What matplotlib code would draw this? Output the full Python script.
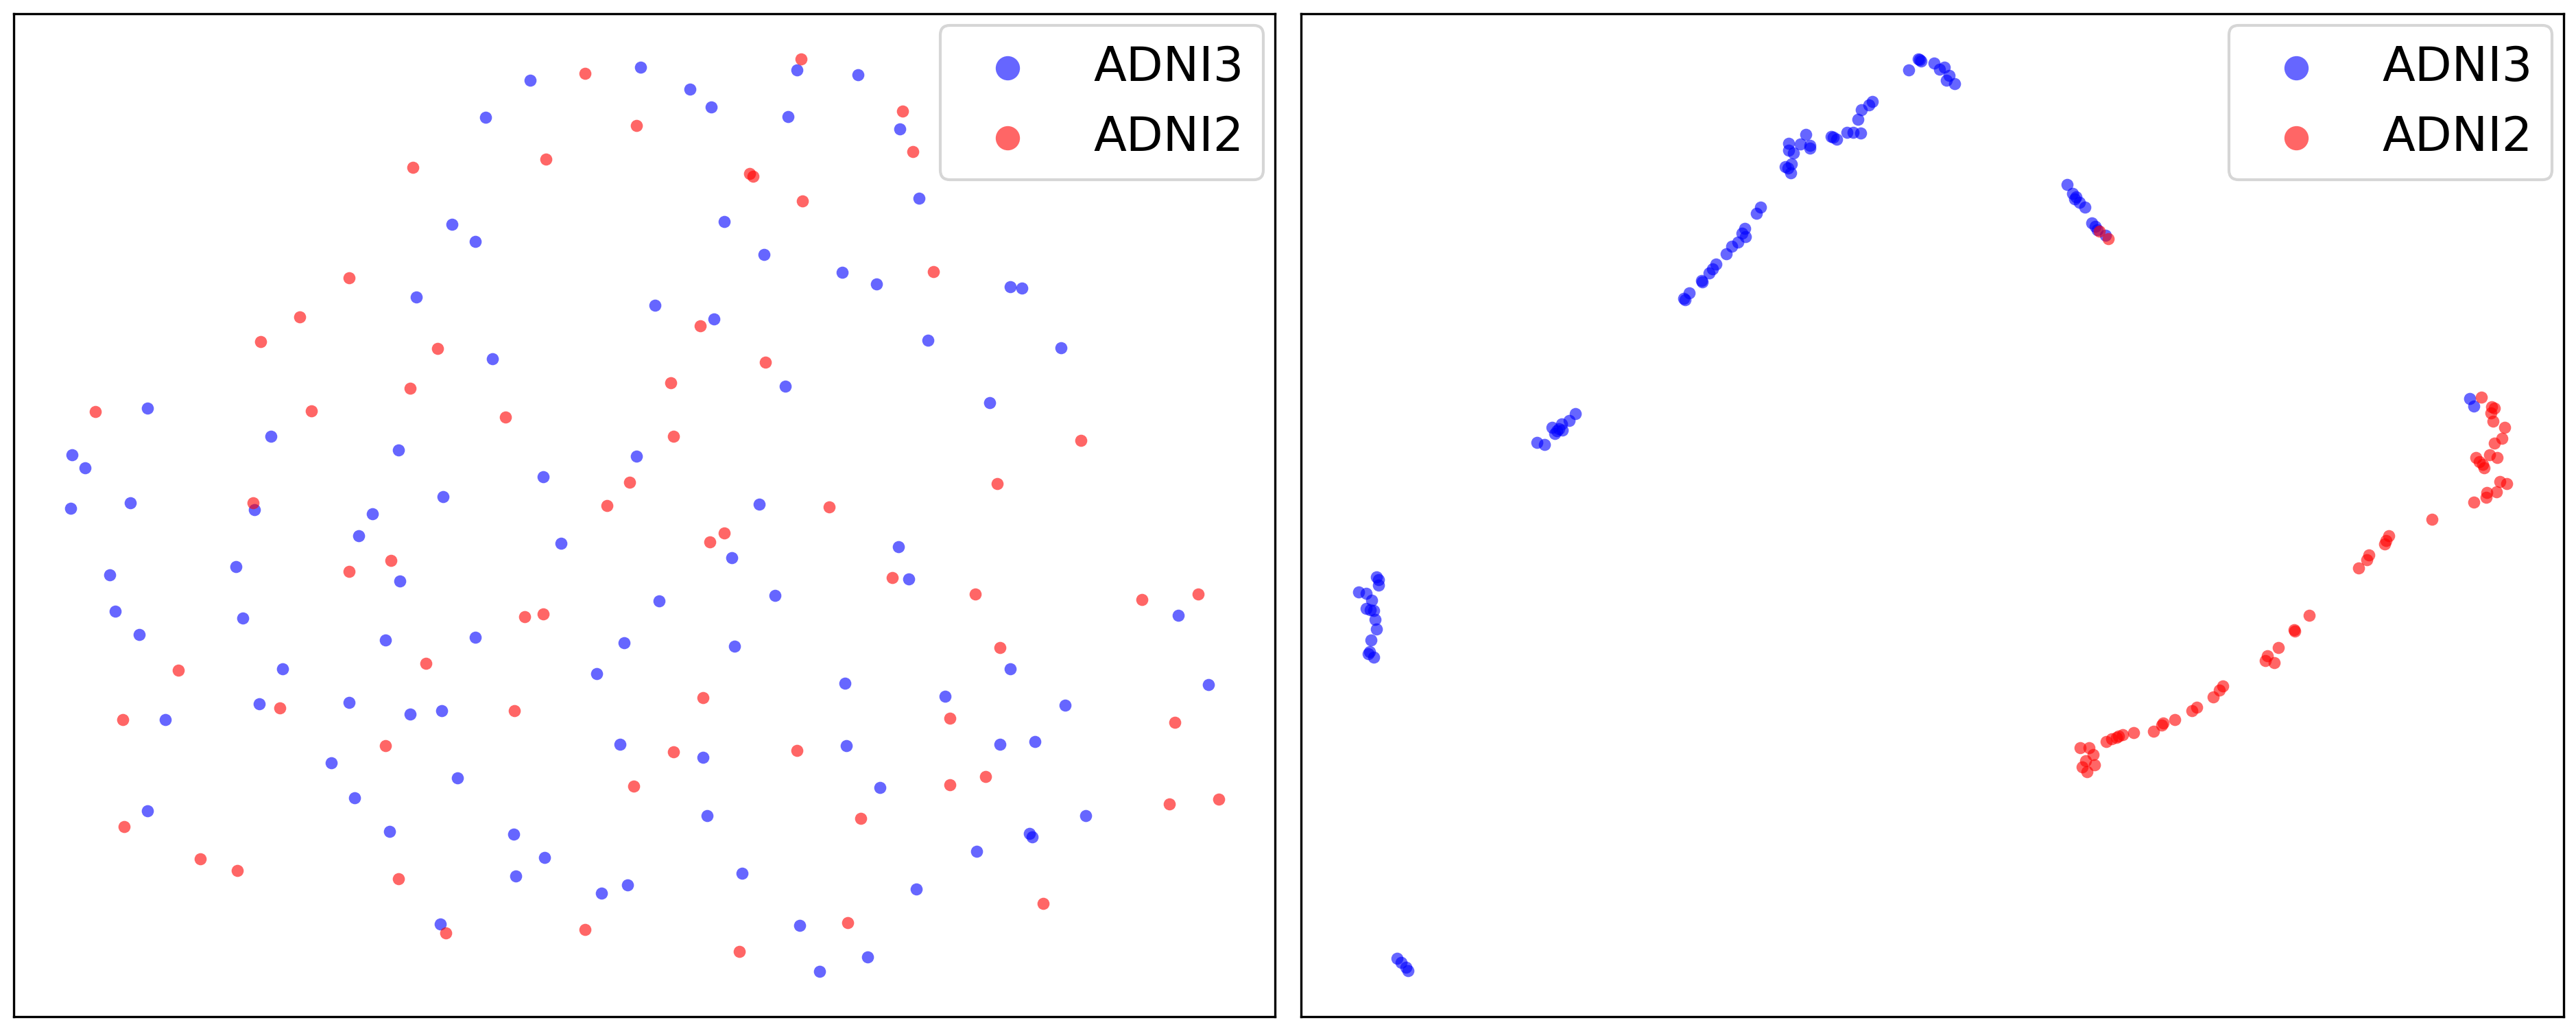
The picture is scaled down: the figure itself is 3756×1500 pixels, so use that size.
import matplotlib
matplotlib.use("Agg")
import matplotlib.pyplot as plt

# ---- data (embedding coordinates; y grows downward) ----
left_adni3_x = [773, 934, 708, 659, 693, 607, 718, 215, 395, 105, 124, 581, 928, 792, 103, 190, 371, 543, 646,
                523, 818, 160, 344, 583, 168, 354, 203, 562, 693, 910, 412, 870, 378, 509, 598, 644, 241, 904, 483,
                667, 517, 215, 568, 749, 794, 752, 877, 915, 642,
                1162, 1251, 1006, 1037, 1149, 1312, 1340, 1056, 1114, 1228, 1278, 1473, 1490, 955, 1041, 1353, 1547,
                1145, 1443, 1107,
                1067, 1310, 1325, 961, 1130, 1718, 1071, 1473, 1232, 1762, 1378, 1553, 1025, 1234, 1458, 1509, 1283,
                1031, 1583, 1501, 1505, 1424, 1082, 1336, 1166, 1265, 1195]
left_adni3_y = [117, 98, 171, 327, 352, 433, 523, 595, 636, 663, 682, 656, 665, 695, 741, 733, 743, 749, 724,
                781, 792, 838, 826, 847, 891, 901, 925, 933, 929, 937, 975, 982, 1026, 1024, 1041, 1036, 1049, 1085,
                1112, 1134, 1163, 1182, 1212, 1216, 1250, 1277, 1302, 1290, 1347,
                102, 109, 130, 156, 170, 188, 289, 323, 371, 397, 414, 418, 420, 445, 465, 496, 507,
                563, 587, 735,
                813, 797, 844, 876, 868, 897, 942, 975, 996, 998, 1015, 1028, 1104, 1087, 1085, 1081, 1148,
                1189, 1189, 1215, 1220, 1241, 1273, 1296, 1349, 1395, 1416]

left_adni2_x = [853, 928, 602, 796, 509, 437, 380, 638, 598, 139, 454, 737, 918, 369, 885,
                509, 570, 765, 792, 260, 621, 408, 750, 179, 562, 924, 181, 292, 346, 581, 650, 853,
                1168, 1316, 1331, 1093, 1098, 1170, 1361, 1021, 1116, 978, 982, 1576, 1454, 1209,
                1056, 1035, 1301, 1422, 1665, 1747, 1458, 1025, 1385, 1713, 982, 1162, 1385, 1437, 1705,
                1777, 1255, 1521, 1236, 1078]
left_adni2_y = [107, 183, 244, 232, 405, 462, 498, 508, 566, 600, 599, 608, 703, 733, 737,
                833, 817, 899, 895, 977, 967, 1032, 1036, 1049, 1087, 1146, 1205, 1252, 1269, 1281, 1360, 1355,
                86, 162, 221, 253, 257, 293, 396, 475, 528, 558, 636, 642, 705, 739,
                777, 790, 842, 866, 874, 866, 944, 1017, 1047, 1053, 1096, 1094, 1144, 1132, 1172,
                1165, 1193, 1317, 1345, 1387]

right_adni3_x = [2783, 2797, 2799, 2801, 2820, 2828, 2835, 2842, 2838, 2850,
                 2730, 2725, 2714, 2709, 2713, 2702, 2693, 2678, 2673, 2670,
                 2633, 2625, 2639, 2639, 2608, 2608, 2615, 2612, 2603, 2611, 2607,
                 2567, 2561, 2544, 2540, 2545, 2534, 2525, 2517,
                 2502, 2497, 2492, 2481, 2482, 2463, 2457, 2455,
                 3014, 3022, 3027, 3025, 3032, 3040, 3050, 3055, 3058, 3070,
                 2297, 2288, 2277, 2273, 2270, 2267, 2263, 2278, 2241, 2252,
                 2007, 2010, 2010, 1981, 1992, 2000, 1992, 1998, 2003, 2005, 2007, 1999, 1995, 2003, 1997,
                 2037, 2043, 2050, 2053,
                 3601, 3607]
right_adni3_y = [102, 86, 87, 89, 92, 101, 98, 110, 117, 122,
                 148, 153, 160, 174, 194, 193, 193, 203, 200, 199,
                 196, 210, 212, 216, 209, 219, 223, 239, 243, 252, 245,
                 302, 311, 333, 340, 345, 353, 359, 370,
                 385, 392, 398, 409, 411, 427, 437, 435,
                 269, 282, 287, 290, 295, 302, 325, 330, 335, 343,
                 603, 613, 618, 625, 628, 632, 623, 627, 645, 648,
                 841, 845, 853, 863, 865, 875, 887, 889, 890, 903, 917, 933, 953, 958, 950,
                 1397, 1403, 1410, 1415,
                 581, 592]

right_adni2_x = [3061, 3074,
                 3618, 3633, 3637, 3632, 3635, 3652, 3648, 3637, 3610, 3615, 3620, 3622, 3630, 3641,
                 3645, 3655, 3640, 3626, 3625, 3607,
                 3546, 3483, 3479, 3477, 3454, 3451, 3439, 3367, 3345, 3346, 3322, 3306, 3303, 3316,
                 3241, 3236, 3227, 3203, 3196, 3171, 3154, 3152, 3140, 3111, 3095, 3089, 3086, 3079,
                 3071, 3033, 3046, 3052, 3041, 3054, 3036, 3043]
right_adni2_y = [337, 348,
                 579, 593, 595, 602, 614, 623, 639, 646, 667, 673, 677, 682, 663, 667,
                 702, 705, 717, 718, 725, 732,
                 757, 781, 788, 793, 809, 816, 828, 897, 918, 920, 944, 956, 963, 966,
                 1000, 1006, 1016, 1031, 1036, 1049, 1054, 1057, 1066, 1068, 1071, 1073, 1075, 1077,
                 1081, 1090, 1090, 1100, 1109, 1115, 1118, 1125]

labels = ["ADNI3", "ADNI2"]
colors = ["blue", "red"]

# ---- figure ----
W, H = 3756, 1500
fig = plt.figure(figsize=(W / 300, H / 300), dpi=300)

def frac_rect(x0, y0, x1, y1):
    return [x0 / W, 1 - y1 / H, (x1 - x0) / W, (y1 - y0) / H]

ax1 = fig.add_axes(frac_rect(20, 20, 1859, 1482))
ax2 = fig.add_axes(frac_rect(1897, 20, 3738, 1482))

panels = [
    (ax1, [(left_adni3_x, left_adni3_y), (left_adni2_x, left_adni2_y)], (20, 1859)),
    (ax2, [(right_adni3_x, right_adni3_y), (right_adni2_x, right_adni2_y)], (1897, 3738)),
]

for ax, series, xlim in panels:
    for (xs, ys), lab, c in zip(series, labels, colors):
        ax.scatter(xs, ys, s=18, c=c, alpha=0.6, linewidths=0, label=lab)
    ax.set_xlim(*xlim)
    ax.set_ylim(1482, 20)
    ax.set_xticks([])
    ax.set_yticks([])
    for sp in ax.spines.values():
        sp.set_linewidth(0.8)
    ax.legend(loc="upper right", fontsize=16.8, markerscale=2, borderaxespad=0.24)

fig.savefig("out.png", dpi=300)
